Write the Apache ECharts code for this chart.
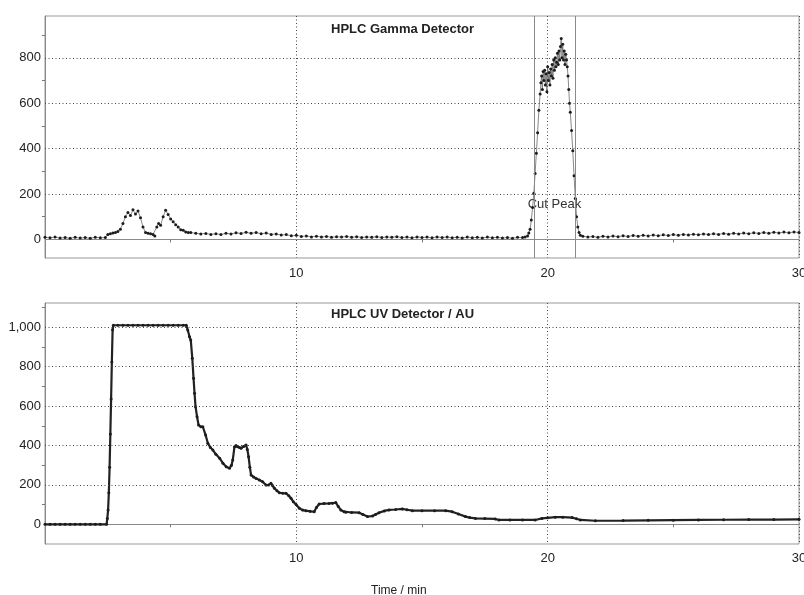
<!DOCTYPE html>
<html>
<head>
<meta charset="utf-8">
<script src="https://cdn.jsdelivr.net/npm/echarts@6/dist/echarts.min.js"></script>
<style>
html,body{margin:0;padding:0;background:#fff;}
#chart{width:804px;height:595px;}
</style>
</head>
<body>
<div id="chart"></div>
<script>
const gammaTitle = 'HPLC Gamma Detector';
const uvTitle = 'HPLC UV Detector / AU';
const xAxisTitle = 'Time / min';
const cutPeakLabel = 'Cut Peak';
const cutPeakBounds = [19.46, 21.08];
const gammaTicks = [0, 200, 400, 600, 800];
const gammaMinorTicks = [100, 300, 500, 700, 900];
const gammaGridValues = [200, 400, 600, 800];
const uvTicks = [0, 200, 400, 600, 800, 1000];
const uvMinorTicks = [100, 300, 500, 700, 900, 1100];
const uvGridValues = [200, 400, 600, 800, 1000];

// [time (min), counts]
const gammaData = [
  [0,9],[0.2,7],[0.4,10],[0.6,6],[0.8,8],[1.0,5],[1.2,9],[1.4,6],[1.6,8],[1.8,5],[2.0,9],[2.2,7],[2.4,8],
  [2.5,22],[2.6,25],[2.7,28],[2.8,30],[2.9,35],[3.0,45],[3.1,70],[3.2,100],[3.3,118],[3.4,105],[3.5,130],
  [3.6,112],[3.7,125],[3.8,95],[3.9,55],[4.0,30],[4.1,27],[4.2,25],[4.3,22],[4.37,15],[4.45,55],[4.52,70],
  [4.6,62],[4.7,100],[4.8,128],[4.9,110],[5.0,90],[5.1,78],[5.2,65],[5.3,55],[5.4,42],[5.5,40],[5.6,33],[5.7,30],
  [5.8,30],[6.0,27],[6.2,24],[6.4,26],[6.6,22],[6.8,25],[7.0,21],[7.2,27],[7.4,24],[7.6,29],[7.8,26],[8.0,31],
  [8.2,27],[8.4,30],[8.6,25],[8.8,28],[9.0,22],[9.2,24],[9.4,19],[9.6,21],[9.8,16],[10.0,18],[10.2,13],[10.4,15],
  [10.6,11],[10.8,14],[11.0,10],[11.2,13],[11.4,9],[11.6,12],[11.8,10],[12.0,13],[12.2,9],[12.4,12],[12.6,8],
  [12.8,11],[13.0,9],[13.2,12],[13.4,8],[13.6,11],[13.8,9],[14.0,12],[14.2,8],[14.4,10],[14.6,7],[14.8,11],
  [15.0,8],[15.2,10],[15.4,7],[15.6,11],[15.8,8],[16.0,10],[16.2,7],[16.4,9],[16.6,6],[16.8,10],[17.0,7],
  [17.2,9],[17.4,6],[17.6,10],[17.8,7],[18.0,9],[18.2,6],[18.4,8],[18.6,5],[18.8,9],[19.0,8],[19.1,10],
  [19.2,15],[19.25,28],[19.3,45],[19.35,85],[19.4,140],[19.45,203],[19.5,290],[19.55,379],[19.6,470],
  [19.65,569],[19.7,640],[19.73,690],[19.76,720],[19.79,660],[19.82,740],[19.85,700],[19.88,745],[19.91,680],
  [19.94,730],[19.97,650],[20.0,760],[20.03,700],[20.06,735],[20.09,680],[20.12,750],[20.15,720],[20.18,770],
  [20.21,710],[20.24,790],[20.27,745],[20.3,800],[20.33,760],[20.36,780],[20.39,820],[20.42,770],[20.45,830],
  [20.48,790],[20.51,850],[20.54,885],[20.57,800],[20.6,860],[20.63,790],[20.66,830],[20.69,770],[20.72,815],
  [20.75,790],[20.78,760],[20.81,720],[20.84,660],[20.87,600],[20.9,560],[20.95,480],[21.0,390],[21.05,280],
  [21.1,180],[21.15,100],[21.2,55],[21.25,30],[21.3,18],[21.4,14],[21.6,10],[21.8,13],[22.0,9],[22.2,14],
  [22.4,11],[22.6,15],[22.8,12],[23.0,16],[23.2,13],[23.4,17],[23.6,14],[23.8,18],[24.0,15],[24.2,19],
  [24.4,16],[24.6,20],[24.8,17],[25.0,21],[25.2,18],[25.4,22],[25.6,19],[25.8,23],[26.0,20],[26.2,24],
  [26.4,21],[26.6,25],[26.8,22],[27.0,26],[27.2,23],[27.4,27],[27.6,24],[27.8,28],[28.0,25],[28.2,29],
  [28.4,26],[28.6,30],[28.8,27],[29.0,31],[29.2,28],[29.4,32],[29.6,29],[29.8,33],[30.0,30]
];

// [time (min), absorbance]
const uvData = [
  [0,0],[0.2,0],[0.4,0],[0.6,0],[0.8,0],[1.0,0],[1.2,0],[1.4,0],[1.6,0],[1.8,0],[2.0,0],[2.2,0],[2.45,0],
  [2.48,30],[2.51,72],[2.54,160],[2.57,289],[2.6,458],[2.63,636],[2.66,824],[2.69,987],[2.72,1010],
  [2.9,1010],[3.1,1010],[3.3,1010],[3.5,1010],[3.7,1010],[3.9,1010],[4.1,1010],[4.3,1010],[4.5,1010],
  [4.7,1010],[4.9,1010],[5.1,1010],[5.3,1010],[5.5,1010],[5.62,1010],[5.68,986],[5.75,952],[5.8,935],
  [5.86,843],[5.91,741],[5.95,665],[5.99,597],[6.05,546],[6.11,504],[6.2,495],[6.28,495],[6.39,453],
  [6.48,411],[6.58,390],[6.68,377],[6.8,355],[6.95,335],[7.08,310],[7.21,292],[7.34,284],[7.42,300],
  [7.47,326],[7.54,394],[7.6,400],[7.67,394],[7.74,390],[7.8,386],[7.9,395],[8.0,402],[8.05,380],[8.1,343],
  [8.15,290],[8.2,250],[8.3,240],[8.4,233],[8.53,225],[8.66,216],[8.79,199],[8.9,200],[8.99,208],[9.06,195],
  [9.13,183],[9.23,170],[9.33,160],[9.46,158],[9.59,157],[9.7,145],[9.79,132],[9.88,115],[9.99,100],
  [10.12,81],[10.25,72],[10.38,69],[10.55,66],[10.71,64],[10.8,85],[10.91,103],[11.1,105],[11.3,106],
  [11.44,107],[11.57,110],[11.67,90],[11.77,73],[11.9,64],[11.97,61],[12.2,60],[12.5,59],[12.65,50],
  [12.83,39],[13.03,42],[13.15,50],[13.29,59],[13.5,68],[13.69,73],[13.95,75],[14.22,78],[14.4,74],
  [14.62,69],[15.0,69],[15.5,69],[15.94,69],[16.2,64],[16.45,52],[16.73,39],[16.9,34],[17.13,30],[17.5,29],
  [17.92,27],[18.06,22],[18.5,22],[19.0,22],[19.5,22],[19.77,30],[20.0,33],[20.3,36],[20.6,36],[20.97,34],
  [21.15,28],[21.3,22],[21.9,18],[23.0,19],[24.0,20],[25.0,21],[26.0,22],[27.0,23],[28.0,24],[29.0,24],[30.0,25]
];

const FONT = '"Liberation Sans", Arial, sans-serif';
const gridDot = { type: [1, 2.5], color: '#444', width: 1 };

function xAxisFor(gi, margin) {
  return {
    gridIndex: gi, type: 'value', min: 0, max: 30, interval: 10,
    axisLine: { show: true, onZero: true, lineStyle: { color: '#8a8a8a', width: 1 } },
    axisTick: { show: false },
    minorTick: { show: true, splitNumber: 2, length: 3, lineStyle: { color: '#777' } },
    axisLabel: { margin: margin, fontSize: 13, color: '#222', fontFamily: FONT,
      formatter: v => (v === 0 ? '' : String(v)) },
    splitLine: { show: true, lineStyle: gridDot }
  };
}
function yAxisFor(gi, min, max, ticks, minor) {
  return {
    gridIndex: gi, type: 'value', min: min, max: max,
    axisLine: { show: true, onZero: false, lineStyle: { color: '#8a8a8a', width: 1 } },
    axisTick: { show: true, customValues: minor, length: 3, lineStyle: { color: '#777' } },
    axisLabel: { customValues: ticks, margin: 4, fontSize: 13, color: '#222', fontFamily: FONT,
      formatter: v => Number(v).toLocaleString('en-US') },
    splitLine: { show: false }
  };
}
function gridMarkLines(values, extra) {
  return {
    silent: true, symbol: ['none', 'none'], animation: false,
    label: { show: false },
    data: values.map(v => ({ yAxis: v, lineStyle: gridDot })).concat(extra || [])
  };
}

const chart = echarts.init(document.getElementById('chart'), null, { renderer: 'canvas' });
chart.setOption({
  animation: false,
  backgroundColor: '#fff',
  textStyle: { fontFamily: FONT },
  title: [
    { text: gammaTitle, left: 331, top: 23, padding: 0,
      textStyle: { fontSize: 13, fontWeight: 'bold', color: '#222', fontFamily: FONT } },
    { text: uvTitle, left: 331, top: 308, padding: 0,
      textStyle: { fontSize: 13, fontWeight: 'bold', color: '#222', fontFamily: FONT } },
    { text: xAxisTitle, left: 371, top: 585, padding: 0,
      textStyle: { fontSize: 12, fontWeight: 'normal', color: '#222', fontFamily: FONT } }
  ],
  grid: [
    { left: 45, top: 16, width: 754, height: 242, containLabel: false, outerBoundsMode: 'none',
      show: true, borderColor: '#999', borderWidth: 1, backgroundColor: 'transparent' },
    { left: 45, top: 303, width: 754, height: 241, containLabel: false, outerBoundsMode: 'none',
      show: true, borderColor: '#999', borderWidth: 1, backgroundColor: 'transparent' }
  ],
  xAxis: [xAxisFor(0, 9), xAxisFor(1, 8)],
  yAxis: [
    yAxisFor(0, -82, 984, gammaTicks, gammaMinorTicks),
    yAxisFor(1, -100, 1123, uvTicks, uvMinorTicks)
  ],
  series: [
    {
      type: 'line', xAxisIndex: 0, yAxisIndex: 0, data: gammaData,
      symbol: 'circle', symbolSize: 3, showAllSymbol: true,
      lineStyle: { color: '#6a6a6a', width: 0.8 },
      itemStyle: { color: '#1c1c1c' },
      markLine: gridMarkLines(gammaGridValues,
        cutPeakBounds.map(v => ({ xAxis: v, lineStyle: { type: 'solid', color: '#8a8a8a', width: 1 } }))),
      markArea: {
        silent: true,
        itemStyle: { color: 'rgba(0,0,0,0)' },
        label: { show: true, position: 'insideBottom', distance: 47, fontSize: 13, color: '#333', fontFamily: FONT },
        data: [[{ name: cutPeakLabel, xAxis: cutPeakBounds[0] }, { xAxis: cutPeakBounds[1] }]]
      }
    },
    {
      type: 'line', xAxisIndex: 1, yAxisIndex: 1, data: uvData,
      symbol: 'circle', symbolSize: 3, showAllSymbol: true,
      lineStyle: { color: '#222', width: 2.2 },
      itemStyle: { color: '#1c1c1c' },
      markLine: gridMarkLines(uvGridValues)
    }
  ]
});
</script>
</body>
</html>
